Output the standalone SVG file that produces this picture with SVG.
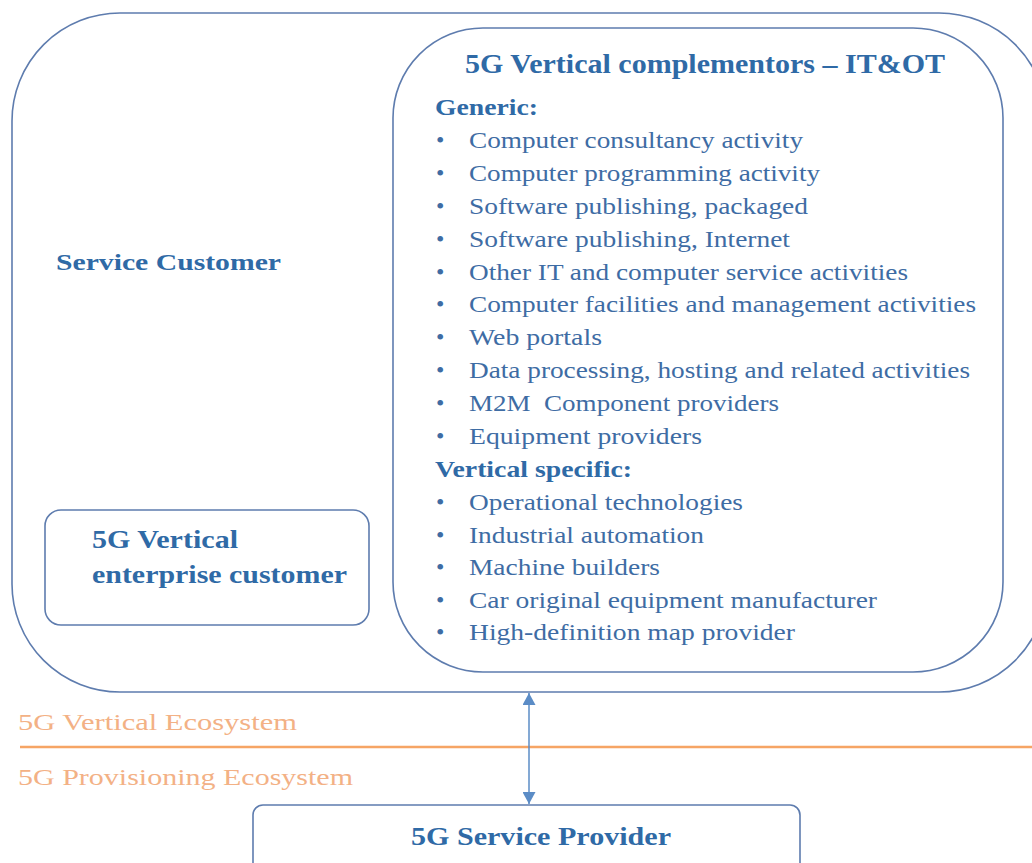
<svg xmlns="http://www.w3.org/2000/svg" width="1032" height="863" viewBox="0 0 1032 863">
  <style>
    text { font-family: "Liberation Serif", "Times New Roman", serif; }
    .box { fill: #ffffff; stroke: #5e7cae; stroke-width: 1.6; }
    .title { font-weight: bold; fill: #2f6aa6; }
    .item { font-size: 24px; fill: #3e6ca4; }
    .eco { font-size: 24px; fill: #f3b185; }
    .link { stroke: #5b8cc6; stroke-width: 1.5; fill: none; }
  </style>
  <defs>
    <marker id="arrow" viewBox="0 0 12 13" refX="12" refY="6.5" markerWidth="12" markerHeight="13" markerUnits="userSpaceOnUse" orient="auto-start-reverse">
      <path d="M0,0 L12,6.5 L0,13 z" fill="#5b8cc6"/>
    </marker>
  </defs>
  <rect width="1032" height="863" fill="#ffffff"/>

  <!-- Service customer (outer container) -->
  <g id="service-customer">
    <rect class="box" x="12" y="13" width="1035" height="679" rx="108" ry="108"/>
    <text class="title" font-size="24" x="56" y="270" textLength="225" lengthAdjust="spacingAndGlyphs">Service Customer</text>
  </g>

  <!-- Vertical complementors -->
  <g id="complementors">
    <rect class="box" x="393" y="28" width="610" height="644" rx="90" ry="90"/>
    <text class="title" font-size="27" x="465" y="73" textLength="480" lengthAdjust="spacingAndGlyphs">5G Vertical complementors – IT&amp;OT</text>
    <text class="title" font-size="23" x="435" y="115" textLength="103" lengthAdjust="spacingAndGlyphs">Generic:</text>
    <text class="title" font-size="23" x="435" y="477" textLength="197" lengthAdjust="spacingAndGlyphs">Vertical specific:</text>
    <g class="item">
      <text x="436" y="148">•</text><text x="469" y="148" textLength="334" lengthAdjust="spacingAndGlyphs">Computer consultancy activity</text>
      <text x="436" y="181">•</text><text x="469" y="181" textLength="351" lengthAdjust="spacingAndGlyphs">Computer programming activity</text>
      <text x="436" y="214">•</text><text x="469" y="214" textLength="339" lengthAdjust="spacingAndGlyphs">Software publishing, packaged</text>
      <text x="436" y="247">•</text><text x="469" y="247" textLength="321" lengthAdjust="spacingAndGlyphs">Software publishing, Internet</text>
      <text x="436" y="280">•</text><text x="469" y="280" textLength="439" lengthAdjust="spacingAndGlyphs">Other IT and computer service activities</text>
      <text x="436" y="312">•</text><text x="469" y="312" textLength="507" lengthAdjust="spacingAndGlyphs">Computer facilities and management activities</text>
      <text x="436" y="345">•</text><text x="469" y="345" textLength="133" lengthAdjust="spacingAndGlyphs">Web portals</text>
      <text x="436" y="378">•</text><text x="469" y="378" textLength="501" lengthAdjust="spacingAndGlyphs">Data processing, hosting and related activities</text>
      <text x="436" y="411">•</text><text x="469" y="411" textLength="310" lengthAdjust="spacingAndGlyphs" xml:space="preserve">M2M  Component providers</text>
      <text x="436" y="444">•</text><text x="469" y="444" textLength="233" lengthAdjust="spacingAndGlyphs">Equipment providers</text>
      <text x="436" y="510">•</text><text x="469" y="510" textLength="274" lengthAdjust="spacingAndGlyphs">Operational technologies</text>
      <text x="436" y="543">•</text><text x="469" y="543" textLength="235" lengthAdjust="spacingAndGlyphs">Industrial automation</text>
      <text x="436" y="575">•</text><text x="469" y="575" textLength="191" lengthAdjust="spacingAndGlyphs">Machine builders</text>
      <text x="436" y="608">•</text><text x="469" y="608" textLength="408" lengthAdjust="spacingAndGlyphs">Car original equipment manufacturer</text>
      <text x="436" y="640">•</text><text x="469" y="640" textLength="326" lengthAdjust="spacingAndGlyphs">High-definition map provider</text>
    </g>
  </g>

  <!-- Vertical enterprise customer -->
  <g id="enterprise-customer">
    <rect class="box" x="45" y="510" width="324" height="115" rx="16" ry="16"/>
    <text class="title" font-size="25" x="92" y="548" textLength="146" lengthAdjust="spacingAndGlyphs">5G Vertical</text>
    <text class="title" font-size="25" x="92" y="583" textLength="255" lengthAdjust="spacingAndGlyphs">enterprise customer</text>
  </g>

  <!-- Ecosystem boundary -->
  <g id="ecosystem-boundary">
    <line x1="20" y1="747" x2="1032" y2="747" stroke="#f6a565" stroke-width="2.5"/>
    <text class="eco" x="18" y="730" textLength="279" lengthAdjust="spacingAndGlyphs">5G Vertical Ecosystem</text>
    <text class="eco" x="18" y="785" textLength="335" lengthAdjust="spacingAndGlyphs">5G Provisioning Ecosystem</text>
  </g>

  <!-- Service provider -->
  <g id="service-provider">
    <rect class="box" x="253" y="805" width="547" height="80" rx="10" ry="10"/>
    <text class="title" font-size="25" x="411" y="845" textLength="260" lengthAdjust="spacingAndGlyphs">5G Service Provider</text>
  </g>

  <g id="connectors">
    <line class="link" x1="529" y1="693" x2="529" y2="804" marker-start="url(#arrow)" marker-end="url(#arrow)"/>
  </g>
</svg>
